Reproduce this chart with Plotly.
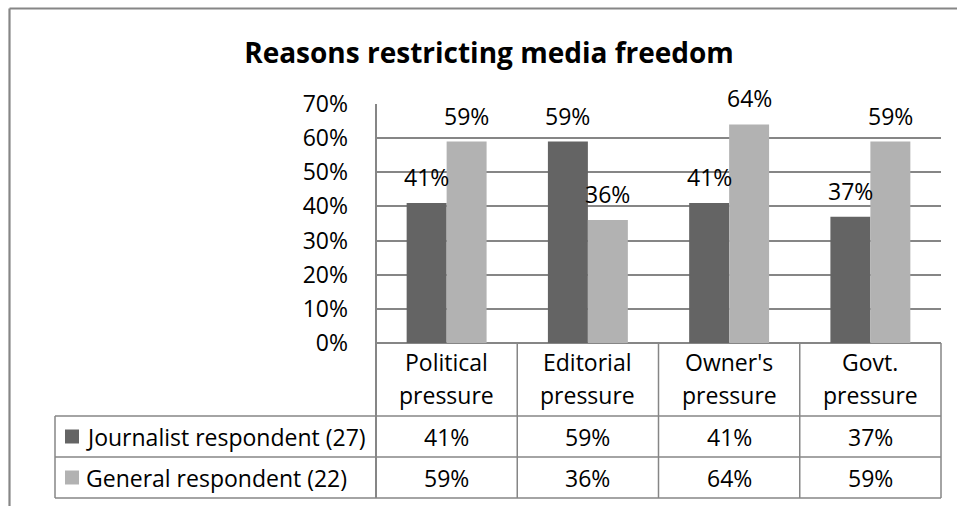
import plotly.graph_objects as go

# Survey data: share of respondents citing each reason
categories = ["Political pressure", "Editorial pressure", "Owner's pressure", "Govt. pressure"]
series_names = ["Journalist respondent (27)", "General respondent (22)"]
journalist = [41, 59, 41, 37]
general = [59, 36, 64, 59]
y_ticks = [0, 10, 20, 30, 40, 50, 60, 70]
y_tick_labels = ["0%", "10%", "20%", "30%", "40%", "50%", "60%", "70%"]

series_values = [journalist, general]
colors = ["#646464", "#b2b2b2"]
grid = "#868686"
FONT = "Open Sans, Carlito, Calibri, sans-serif"
FS = 23

W, H = 957, 506
L, R, T, B = 376, 16, 104, 163
PW, PH = W - L - R, H - T - B


def fx(px):
    return (px - L) / PW


def fy(py):
    return (H - B - py) / PH


fig = go.Figure()
for name, vals, col in zip(series_names, series_values, colors):
    fig.add_trace(go.Bar(
        x=categories, y=vals, name=name, marker_color=col,
        marker_line_width=0, showlegend=False,
    ))

# value labels above each bar
half = (1 - 0.434) / 4
for k, vals in enumerate(series_values):
    off = -half if k == 0 else half
    for i, v in enumerate(vals):
        fig.add_annotation(
            x=i + off, y=v, xref="x", yref="y", text=f"{v}%",
            showarrow=False, yanchor="middle", yshift=26,
            font=dict(family=FONT, size=FS, color="black"),
        )

shapes = []


def line(x0, y0, x1, y1, w=1.5):
    shapes.append(dict(type="line", xref="paper", yref="paper",
                       x0=fx(x0), y0=fy(y0), x1=fx(x1), y1=fy(y1),
                       line=dict(color=grid, width=w)))


# outer chart border
line(9.5, 8.5, 960, 8.5, 2.2)
line(9.5, 8.5, 9.5, 510, 2.2)

# data table grid
col_edges = [L + PW * j / 4 for j in range(5)]
row_edges = [416, 457, 498]
line(L, T, L, 498, 2)
for xe in col_edges[1:]:
    line(xe, H - B, xe, 498)
for ye in row_edges:
    line(55, ye, col_edges[-1], ye)
line(55, 416, 55, 498)

# category headers of the table
for i, cat in enumerate(categories):
    first, second = cat.split(" ", 1)
    for txt, yc in ((first, 362), (second, 395)):
        fig.add_annotation(x=i, y=fy(yc), xref="x", yref="paper", text=txt,
                           showarrow=False, yanchor="middle",
                           font=dict(family=FONT, size=FS, color="black"))

# series rows: legend key, name and values
for k, (name, vals, col) in enumerate(zip(series_names, series_values, colors)):
    yc = (row_edges[k] + row_edges[k + 1]) / 2
    shapes.append(dict(type="rect", xref="paper", yref="paper",
                       x0=fx(65), x1=fx(79), y0=fy(yc - 7), y1=fy(yc + 7),
                       fillcolor=col, line=dict(width=0)))
    fig.add_annotation(x=fx(84), y=fy(yc), xref="paper", yref="paper", text=name,
                       showarrow=False, xanchor="left", yanchor="middle",
                       font=dict(family=FONT, size=FS, color="black"))
    for i, v in enumerate(vals):
        fig.add_annotation(x=i, y=fy(yc), xref="x", yref="paper", text=f"{v}%",
                           showarrow=False, yanchor="middle",
                           font=dict(family=FONT, size=FS, color="black"))

fig.update_layout(
    width=W, height=H,
    margin=dict(l=L, r=R, t=T, b=B),
    paper_bgcolor="white", plot_bgcolor="white",
    barmode="group", bargap=0.434, bargroupgap=0,
    shapes=shapes,
    title=dict(text="<b>Reasons restricting media freedom</b>",
               x=489 / W, xanchor="center", xref="container",
               y=1 - 53 / H, yanchor="middle", yref="container",
               font=dict(family=FONT, size=28, color="black")),
    font=dict(family=FONT, size=FS, color="black"),
)
fig.update_xaxes(showticklabels=False, showgrid=False, showline=False,
                 zeroline=False, ticks="", range=[-0.5, 3.5])
fig.update_yaxes(range=[0, 70], tickmode="array", tickvals=y_ticks,
                 ticktext=y_tick_labels,
                 showgrid=True, gridcolor=grid, gridwidth=1.5,
                 zeroline=True, zerolinecolor=grid, zerolinewidth=1.5,
                 showline=False, ticks="", ticklabelstandoff=27,
                 tickfont=dict(family=FONT, size=FS, color="black"))

fig.write_html("out.html")
